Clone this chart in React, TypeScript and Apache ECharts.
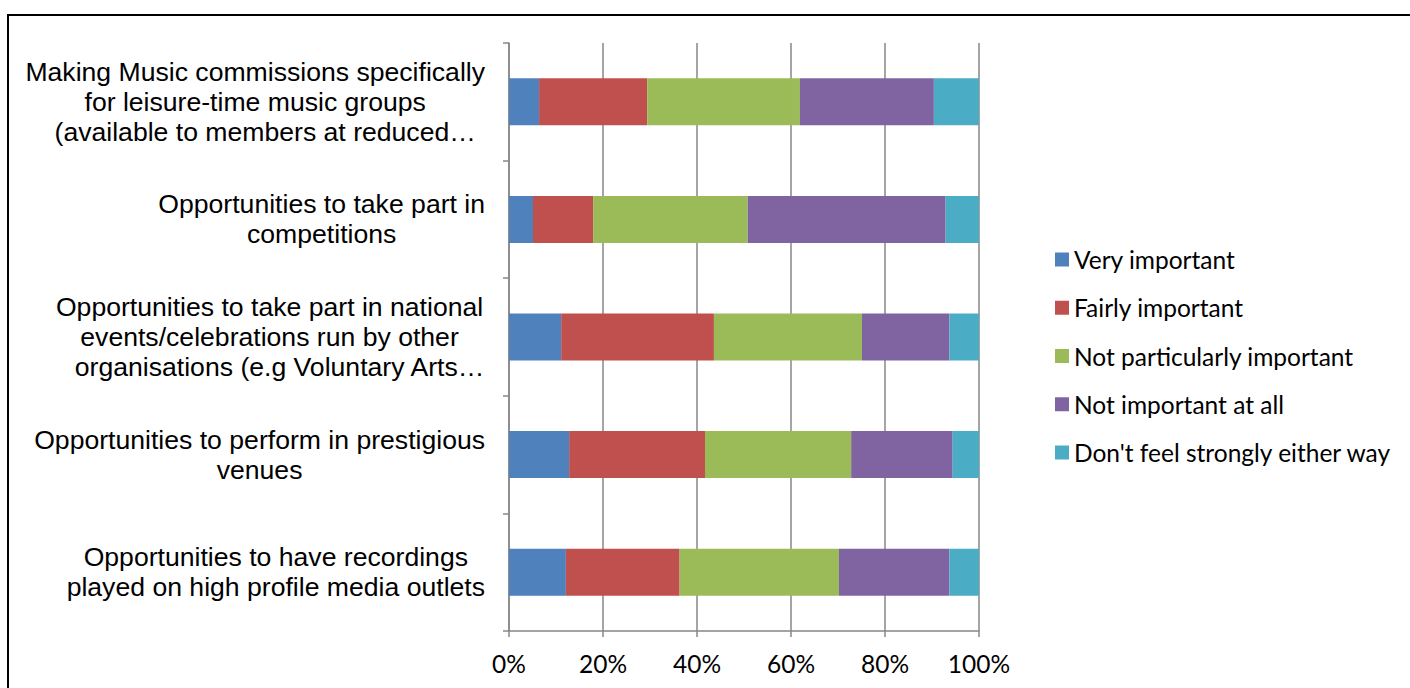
import React, { useEffect, useRef } from "react";
import * as echarts from "echarts";

// Survey items, top to bottom
const categories = [
  "Making Music commissions specifically\nfor leisure-time music groups\n(available to members at reduced…",
  "Opportunities to take part in\ncompetitions",
  "Opportunities to take part in national\nevents/celebrations run by other\norganisations (e.g Voluntary Arts…",
  "Opportunities to perform in prestigious\nvenues",
  "Opportunities to have recordings\nplayed on high profile media outlets",
];

// Share of respondents (%) per answer
const veryImportant = [6.4, 5.1, 11.1, 12.8, 12.1];
const fairlyImportant = [23.0, 12.8, 32.5, 28.9, 24.2];
const notParticularly = [32.5, 32.9, 31.5, 31.1, 33.9];
const notAtAll = [28.5, 42.1, 18.6, 21.6, 23.5];
const dontFeel = [9.6, 7.1, 6.3, 5.6, 6.3];

const seriesNames = [
  "Very important",
  "Fairly important",
  "Not particularly important",
  "Not important at all",
  "Don't feel strongly either way",
];
const seriesValues = [veryImportant, fairlyImportant, notParticularly, notAtAll, dontFeel];
const seriesColors = ["#4F81BD", "#C0504D", "#9BBB59", "#8064A2", "#4BACC6"];

const xTicks = [0, 20, 40, 60, 80, 100];

const GRID_COLOR = "#878787";
const LABEL_FONT = "'Liberation Sans', Arial, sans-serif";
const UI_FONT = "Lato, 'Noto Sans', sans-serif";

const labelLine = {
  align: "center",
  fontFamily: LABEL_FONT,
  fontSize: 26.6,
  lineHeight: 30,
  color: "#000",
};

export default function App() {
  const ref = useRef<HTMLDivElement>(null);

  useEffect(() => {
    if (!ref.current) return;
    const chart = echarts.init(ref.current, undefined, { renderer: "svg" });

    chart.setOption({
      animation: false,
      backgroundColor: "#ffffff",
      grid: { left: 509, right: 431, top: 43, bottom: 57, containLabel: false },
      legend: {
        orient: "vertical",
        left: 1050,
        top: 242,
        itemWidth: 14,
        itemHeight: 14,
        itemGap: 23.25,
        icon: "rect",
        data: seriesNames,
        textStyle: {
          fontFamily: UI_FONT,
          fontSize: 24.5,
          lineHeight: 24,
          color: "#000",
        },
      },
      xAxis: {
        type: "value",
        min: xTicks[0],
        max: xTicks[xTicks.length - 1],
        interval: 20,
        axisLine: { show: true, lineStyle: { color: GRID_COLOR, width: 1.5 } },
        axisTick: { show: true, length: 6, lineStyle: { color: GRID_COLOR, width: 1.5 } },
        axisLabel: {
          formatter: "{value}%",
          fontFamily: UI_FONT,
          fontSize: 24.5,
          color: "#000",
          margin: 20,
        },
        splitLine: { show: true, lineStyle: { color: GRID_COLOR, width: 1.5 } },
      },
      yAxis: {
        type: "category",
        inverse: true,
        data: categories,
        axisLine: { show: true, lineStyle: { color: GRID_COLOR, width: 1.5 } },
        axisTick: { show: true, length: 6, lineStyle: { color: GRID_COLOR, width: 1.5 } },
        axisLabel: {
          margin: 24,
          // centre each line; truncated lines sit a little to the right
          formatter: (v: string) =>
            v
              .split("\n")
              .map((line) => (line.endsWith("…") ? `{t|${line}}` : `{c|${line}}`))
              .join("\n"),
          rich: {
            c: labelLine,
            t: { ...labelLine, padding: [0, 0, 0, 20] },
          },
        },
      },
      series: seriesNames.map((name, i) => ({
        name,
        type: "bar",
        stack: "total",
        barWidth: 47,
        data: seriesValues[i],
        itemStyle: { color: seriesColors[i] },
      })),
      graphic: [
        {
          type: "rect",
          shape: { x: 8, y: 15, width: 1600, height: 900 },
          style: { fill: "none", stroke: "#000", lineWidth: 2 },
          silent: true,
        },
      ],
    });

    return () => chart.dispose();
  }, []);

  return (
    <div
      ref={ref}
      style={{ position: "fixed", left: 0, top: 0, width: 1410, height: 688 }}
    />
  );
}
